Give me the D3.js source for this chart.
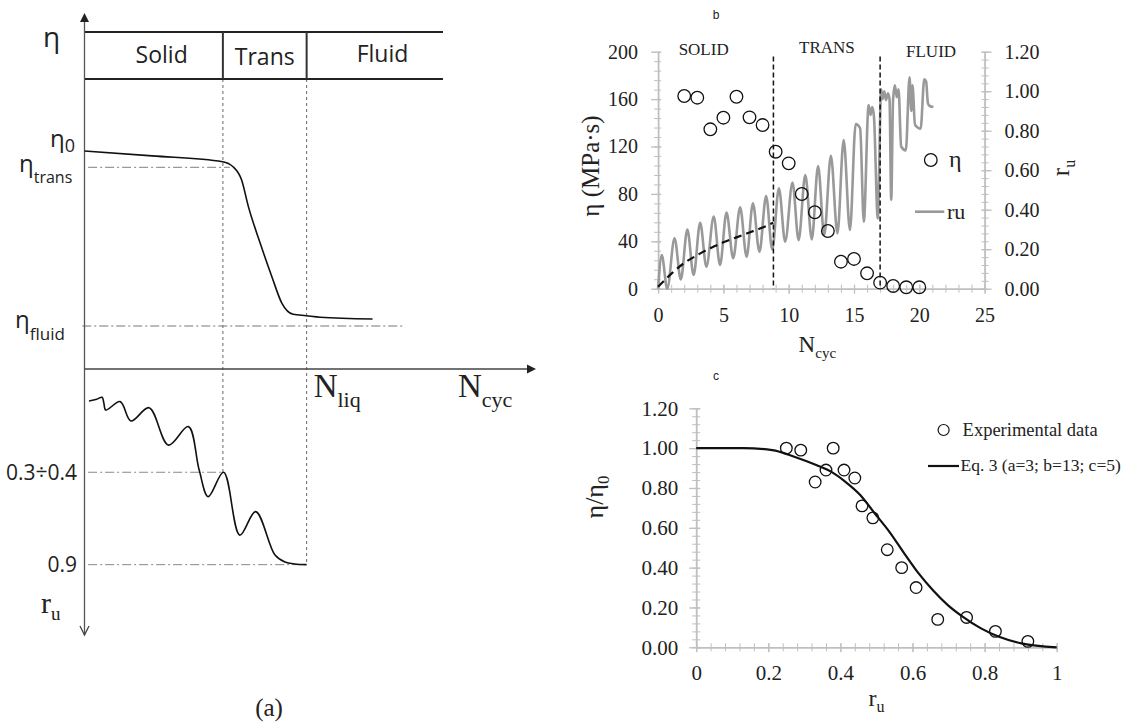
<!DOCTYPE html>
<html>
<head>
<meta charset="utf-8">
<script src="https://cdn.jsdelivr.net/npm/d3@7"></script>
<style>
  body { margin: 0; background: #fff; }
  svg { display: block; }
</style>
</head>
<body>
<svg id="chart" width="1131" height="723"></svg>
<script>
// ---------- panel (a): schematic, notional units ----------
// N runs 0..100 along the axis, eta 0 (= eta_fluid) .. 1 (= eta0), ru 0 .. 1 downward
const phaseNames = ["Solid", "Trans", "Fluid"];
const phaseEdgesA = [0, 30.65, 49.2, 79.4];
const etaSchemN = [0, 15, 30.6, 32.9, 34.8, 36.3, 38.9, 41.5, 43.7, 46.2, 49.1, 52.2, 63.8];
const etaSchemV = [1.0, 0.972, 0.939, 0.91, 0.834, 0.682, 0.474, 0.282, 0.131, 0.067, 0.059, 0.05, 0.04];
const etaLevels = [1.0, 0.906, 0]; // eta0, eta_trans, eta_fluid
const ruSchemN = [1.0, 2.7, 3.9, 4.3, 4.7, 7.9, 10.3, 14.3, 18.6, 23.0, 25.4, 27.4, 30.8, 34.4, 37.9, 42.2, 44.4, 46.6, 49.2];
const ruSchemV = [0.147, 0.139, 0.130, 0.158, 0.189, 0.150, 0.239, 0.178, 0.350, 0.265, 0.465, 0.587, 0.475, 0.764, 0.656, 0.856, 0.888, 0.897, 0.9];
const ruLevels = [0.475, 0.9];
const ruLevelLabels = ["0.3÷0.4", "0.9"];

// ---------- panel b ----------
const cycN = [2, 3, 4, 5, 6, 7, 8, 9, 10, 11, 12, 13, 14, 15, 16, 17, 18, 19, 20];
const etaMPa = [162.6, 161.2, 134.5, 144.3, 162, 144.6, 138.1, 115.6, 105.8, 79.9, 64.5, 48.7, 22.8, 25.1, 13.0, 5.1, 2.3, 1.2, 1.2];
const ruN = [0, 0.28, 0.70, 1.26, 1.74, 2.24, 2.72, 3.22, 3.70, 4.26, 4.74, 5.24, 5.75, 6.28, 6.78, 7.26, 7.76, 8.27, 8.74,
  9.25, 9.73, 10.29, 10.76, 11.27, 11.77, 12.25, 12.72, 13.23, 13.73, 14.21, 14.69, 15.13, 15.47, 15.75, 16.12, 16.26,
  16.40, 16.53, 16.82, 17.08, 17.2, 17.32, 17.45, 17.6, 17.72, 17.85, 17.99, 18.13, 18.27, 18.41, 18.61, 18.97, 19.25,
  19.39, 19.48, 19.67, 20.10, 20.38, 20.52, 20.66, 20.80, 21.08];
const ruVal = [0, 0.17, 0.0, 0.255, 0.047, 0.30, 0.069, 0.334, 0.111, 0.365, 0.12, 0.385, 0.154, 0.412, 0.162, 0.432, 0.187, 0.469, 0.199,
  0.508, 0.238, 0.537, 0.246, 0.576, 0.25, 0.621, 0.272, 0.673, 0.28, 0.753, 0.297, 0.834, 0.812, 0.339, 0.93, 0.88,
  0.92, 0.87, 0.356, 1.01, 0.96, 1.0, 0.955, 0.99, 0.96, 0.45, 0.955, 1.03, 0.97, 1.01, 0.72, 0.70, 1.07,
  0.90, 1.03, 0.83, 0.81, 1.06, 1.05, 0.94, 0.925, 0.92];
const trendN = [0, 1, 2, 3, 4, 5, 6, 7, 8, 8.82];
const trendRu = [0.01, 0.075, 0.13, 0.17, 0.205, 0.235, 0.26, 0.285, 0.31, 0.334];
const phaseBoundsB = [8.83, 17.0];
const phaseLabelsB = ["SOLID", "TRANS", "FLUID"];
const phaseLabelN = [3.49, 12.93, 20.9];
const etaTicks = [0, 40, 80, 120, 160, 200];
const ruTicksB = [0, 0.2, 0.4, 0.6, 0.8, 1.0, 1.2];
const cycTicks = [0, 5, 10, 15, 20, 25];

// ---------- panel c ----------
const expRu = [0.25, 0.29, 0.33, 0.36, 0.38, 0.41, 0.44, 0.46, 0.49, 0.53, 0.57, 0.61, 0.67, 0.75, 0.83, 0.92];
const expEta = [1.00, 0.99, 0.83, 0.89, 1.00, 0.89, 0.85, 0.71, 0.65, 0.49, 0.40, 0.30, 0.14, 0.15, 0.08, 0.03];
const fitRu = [0, 0.13, 0.211, 0.272, 0.333, 0.374, 0.414, 0.455, 0.495, 0.536, 0.577, 0.617, 0.658, 0.698, 0.739, 0.79, 0.84, 0.902, 1.0];
const fitEta = [1.0, 1.0, 0.99, 0.957, 0.915, 0.882, 0.831, 0.765, 0.673, 0.58, 0.472, 0.371, 0.284, 0.212, 0.154, 0.095, 0.053, 0.02, 0.0];
const cTicksX = [0, 0.2, 0.4, 0.6, 0.8, 1];
const cTicksY = [0, 0.2, 0.4, 0.6, 0.8, 1.0, 1.2];

const svg = d3.select("#chart");
const serif = "'Liberation Serif', 'Times New Roman', serif";
const sans = "'Open Sans', 'DejaVu Sans', sans-serif";
const axisGrey = "#bfbfbf";
const ink = "#222";

// ================= (a) =================
const xA = d3.scaleLinear().domain([0, 100]).range([84.5, 536]);
const etaA = d3.scaleLinear().domain([0, 1]).range([326, 151]);
const ruA = d3.scaleLinear().domain([0, 1]).range([369, 586.4]);
const gA = svg.append("g");

// phase boundaries
[phaseEdgesA[1], phaseEdgesA[2]].forEach((n, i) => {
  gA.append("line")
    .attr("x1", xA(n)).attr("x2", xA(n))
    .attr("y1", 79).attr("y2", ruA(ruLevels[i]))
    .attr("stroke", "#666").attr("stroke-width", 1).attr("stroke-dasharray", "3,3");
});

// dash-dot reference levels
const dashDot = "9,3,2,3";
gA.append("line").attr("x1", xA(0.8)).attr("x2", xA(32.2))
  .attr("y1", etaA(etaLevels[1])).attr("y2", etaA(etaLevels[1]))
  .attr("stroke", "#999").attr("stroke-width", 1.2).attr("stroke-dasharray", dashDot);
gA.append("line").attr("x1", xA(-0.5)).attr("x2", xA(70.8))
  .attr("y1", etaA(etaLevels[2])).attr("y2", etaA(etaLevels[2]))
  .attr("stroke", "#777").attr("stroke-width", 1).attr("stroke-dasharray", dashDot);
ruLevels.forEach((r, i) => {
  gA.append("line").attr("x1", xA(0.8)).attr("x2", xA(phaseEdgesA[i + 1]))
    .attr("y1", ruA(r)).attr("y2", ruA(r))
    .attr("stroke", "#888").attr("stroke-width", 1).attr("stroke-dasharray", dashDot);
});

// phase box
gA.selectAll("line.box")
  .data([32, 79])
  .join("line")
  .attr("x1", xA(0)).attr("x2", xA(phaseEdgesA[3]))
  .attr("y1", d => d).attr("y2", d => d)
  .attr("stroke", ink).attr("stroke-width", 2.2);
[phaseEdgesA[1], phaseEdgesA[2]].forEach(n => {
  gA.append("line").attr("x1", xA(n)).attr("x2", xA(n)).attr("y1", 32).attr("y2", 79)
    .attr("stroke", "#333").attr("stroke-width", 2);
});
gA.selectAll("text.phase")
  .data(phaseNames)
  .join("text")
  .attr("x", (d, i) => i === 2 ? xA(66) : xA((phaseEdgesA[i] + phaseEdgesA[i + 1]) / 2) + (i === 0 ? 8 : 0))
  .attr("y", (d, i) => [63, 65, 62][i])
  .attr("text-anchor", "middle")
  .attr("font-family", sans).attr("font-size", 23).attr("fill", ink)
  .text(d => d);

// axes with arrows
gA.append("line").attr("x1", xA(0)).attr("x2", xA(0)).attr("y1", 20).attr("y2", 635)
  .attr("stroke", "#555").attr("stroke-width", 1.3);
gA.append("path").attr("d", `M${xA(0)},13 L${xA(0) - 4.5},22 L${xA(0) + 4.5},22 Z`).attr("fill", ink);
gA.append("path").attr("d", `M${xA(0) - 4.5},626 L${xA(0)},635 L${xA(0) + 4.5},626`)
  .attr("fill", "none").attr("stroke", "#444").attr("stroke-width", 1.3);
gA.append("line").attr("x1", xA(0)).attr("x2", 528).attr("y1", ruA(0)).attr("y2", ruA(0))
  .attr("stroke", "#444").attr("stroke-width", 1.3);
gA.append("path").attr("d", `M527,${ruA(0) - 4.5} L536,${ruA(0)} L527,${ruA(0) + 4.5} Z`).attr("fill", ink);

// curves
gA.append("path")
  .datum(etaSchemN.map((n, i) => [n, etaSchemV[i]]))
  .attr("d", d3.line().x(d => xA(d[0])).y(d => etaA(d[1])).curve(d3.curveMonotoneX))
  .attr("fill", "none").attr("stroke", "#111").attr("stroke-width", 1.6);
gA.append("path")
  .datum(ruSchemN.map((n, i) => [n, ruSchemV[i]]))
  .attr("d", d3.line().x(d => xA(d[0])).y(d => ruA(d[1])).curve(d3.curveCatmullRom.alpha(0.5)))
  .attr("fill", "none").attr("stroke", "#111").attr("stroke-width", 1.6);

// labels
function subLabel(g, x, y, main, sub, opts) {
  const t = g.append("text").attr("x", x).attr("y", y)
    .attr("font-family", opts.family).attr("font-size", opts.size).attr("fill", ink);
  t.append("tspan").text(main);
  if (sub) t.append("tspan").attr("font-size", opts.subSize).attr("dy", opts.dy).text(sub);
  if (opts.anchor) t.attr("text-anchor", opts.anchor);
  return t;
}
subLabel(gA, 43, 47, "η", null, { family: sans, size: 28 });
subLabel(gA, 50, etaA(etaLevels[0]) - 4, "η", "0", { family: sans, size: 24, subSize: 18, dy: 5 });
subLabel(gA, 19, etaA(etaLevels[1]) + 4.5, "η", "trans", { family: sans, size: 24, subSize: 16, dy: 11 });
subLabel(gA, 15, etaA(etaLevels[2]) + 2, "η", "fluid", { family: sans, size: 24, subSize: 17, dy: 12 });
ruLevels.forEach((r, i) => {
  gA.append("text").attr("x", 77).attr("y", ruA(r) + 7.5)
    .attr("text-anchor", "end").attr("font-family", sans).attr("font-size", 21).attr("fill", ink)
    .text(ruLevelLabels[i]);
});
subLabel(gA, xA(phaseEdgesA[2]) + 7, 397, "N", "liq", { family: serif, size: 33, subSize: 22, dy: 10 });
subLabel(gA, 458, 397, "N", "cyc", { family: serif, size: 33, subSize: 22, dy: 10 });
subLabel(gA, 41, 613, "r", "u", { family: serif, size: 30, subSize: 19, dy: 7 });
gA.append("text").attr("x", 269).attr("y", 716).attr("text-anchor", "middle")
  .attr("font-family", serif).attr("font-size", 25).attr("fill", ink).text("(a)");

// ================= b =================
const xB = d3.scaleLinear().domain([0, 25]).range([658.1, 984.6]);
const yB = d3.scaleLinear().domain([0, 200]).range([288.7, 51.7]);
const yBr = d3.scaleLinear().domain([0, 1.2]).range([288.7, 51.7]);
const gB = svg.append("g");

function styleAxis(g, fontSize) {
  g.select(".domain").attr("stroke", axisGrey).attr("stroke-width", 1.8);
  g.selectAll(".tick line").attr("stroke", axisGrey).attr("stroke-width", 1.3);
  g.selectAll(".tick text").attr("fill", ink).attr("font-family", serif).attr("font-size", fontSize);
}
function minorAxis(g, axis, values, size) {
  const m = g.append("g").call(axis.tickValues(values).tickSize(size).tickFormat(""));
  m.select(".domain").remove();
  m.selectAll(".tick line").attr("stroke", axisGrey).attr("stroke-width", 1);
  return m;
}

// minor ticks
minorAxis(gB.append("g").attr("transform", `translate(${xB(0)},0)`), d3.axisLeft(yB), d3.range(0, 201, 8), 4)
  .selectAll(".tick line").attr("x1", 3);
minorAxis(gB.append("g").attr("transform", `translate(${xB(25)},0)`), d3.axisRight(yBr), d3.range(0, 1.2001, 0.04), 4)
  .selectAll(".tick line").attr("x1", -3);
minorAxis(gB.append("g").attr("transform", `translate(0,${yB(0)})`), d3.axisBottom(xB), d3.range(0, 26, 1), 4)
  .selectAll(".tick line").attr("y1", -4);

const axBL = gB.append("g").attr("transform", `translate(${xB(0)},0)`)
  .call(d3.axisLeft(yB).tickValues(etaTicks).tickSize(7).tickPadding(13).tickSizeOuter(0));
styleAxis(axBL, 20);
axBL.selectAll(".tick line").attr("x1", 3);
const axBR = gB.append("g").attr("transform", `translate(${xB(25)},0)`)
  .call(d3.axisRight(yBr).tickValues(ruTicksB).tickSize(7).tickPadding(13).tickSizeOuter(0).tickFormat(d3.format(".2f")));
styleAxis(axBR, 20);
axBR.selectAll(".tick line").attr("x1", -3);
const axBB = gB.append("g").attr("transform", `translate(0,${yB(0)})`)
  .call(d3.axisBottom(xB).tickValues(cycTicks).tickSize(5).tickPadding(14).tickSizeOuter(0));
styleAxis(axBB, 20);
axBB.selectAll(".tick line").attr("y1", -4);

// ru record
gB.append("path")
  .datum(ruN.map((n, i) => [n, ruVal[i]]))
  .attr("d", d3.line().x(d => xB(d[0])).y(d => yBr(d[1])).curve(d3.curveMonotoneX))
  .attr("fill", "none").attr("stroke", "#999").attr("stroke-width", 2.6).attr("stroke-linejoin", "round");

// trend in solid phase
gB.append("path")
  .datum(trendN.map((n, i) => [n, trendRu[i]]))
  .attr("d", d3.line().x(d => xB(d[0])).y(d => yBr(d[1])).curve(d3.curveMonotoneX))
  .attr("fill", "none").attr("stroke", "#111").attr("stroke-width", 2.2).attr("stroke-dasharray", "8,5");

// phase limits
gB.selectAll("line.phase")
  .data(phaseBoundsB)
  .join("line")
  .attr("x1", d => xB(d)).attr("x2", d => xB(d))
  .attr("y1", yB(196)).attr("y2", yB(0))
  .attr("stroke", "#111").attr("stroke-width", 1.5).attr("stroke-dasharray", "5,3");
gB.selectAll("text.phase")
  .data(phaseLabelsB)
  .join("text")
  .attr("x", (d, i) => xB(phaseLabelN[i]))
  .attr("y", (d, i) => [55, 53.3, 56.7][i])
  .attr("text-anchor", "middle")
  .attr("font-family", serif).attr("font-size", 17).attr("fill", ink)
  .text(d => d);

// viscosity points
gB.selectAll("circle.eta")
  .data(cycN.map((n, i) => [n, etaMPa[i]]))
  .join("circle")
  .attr("cx", d => xB(d[0])).attr("cy", d => yB(d[1])).attr("r", 6.3)
  .attr("fill", "none").attr("stroke", "#111").attr("stroke-width", 1.3);

// legend
gB.append("circle").attr("cx", 930.8).attr("cy", 160).attr("r", 6.3)
  .attr("fill", "none").attr("stroke", "#111").attr("stroke-width", 1.3);
gB.append("text").attr("x", 949).attr("y", 167).attr("font-family", serif).attr("font-size", 24).attr("fill", ink).text("η");
gB.append("line").attr("x1", 915).attr("x2", 944.3).attr("y1", 211.7).attr("y2", 211.7)
  .attr("stroke", "#999").attr("stroke-width", 2.6);
gB.append("text").attr("x", 947).attr("y", 219).attr("font-family", serif).attr("font-size", 22).attr("fill", ink).text("ru");

// titles
gB.append("text").attr("transform", "translate(599,166) rotate(-90)").attr("text-anchor", "middle")
  .attr("font-family", serif).attr("font-size", 25).attr("fill", ink).text("η (MPa·s)");
subLabel(gB, 0, 0, "r", "u", { family: serif, size: 25, subSize: 16, dy: 6, anchor: "middle" })
  .attr("transform", "translate(1069,168) rotate(-90)");
subLabel(gB, (xB(0) + xB(25)) / 2 - 4, 352, "N", "cyc", { family: serif, size: 23, subSize: 15, dy: 6, anchor: "middle" });
gB.append("text").attr("x", 716).attr("y", 19).attr("text-anchor", "middle")
  .attr("font-family", "'Liberation Sans', Arial, sans-serif").attr("font-size", 12).attr("fill", ink).text("b");

// ================= c =================
const xC = d3.scaleLinear().domain([0, 1]).range([696.2, 1056.7]);
const yC = d3.scaleLinear().domain([0, 1.2]).range([647.3, 408.3]);
const gC = svg.append("g");

minorAxis(gC.append("g").attr("transform", `translate(${xC(0)},0)`), d3.axisLeft(yC), d3.range(0, 1.2001, 0.04), 4)
  .selectAll(".tick line").attr("x1", 4);
minorAxis(gC.append("g").attr("transform", `translate(0,${yC(0)})`), d3.axisBottom(xC), d3.range(0, 1.0001, 0.04), 4)
  .selectAll(".tick line").attr("y1", -4);
const axCL = gC.append("g").attr("transform", `translate(${xC(0)},0)`)
  .call(d3.axisLeft(yC).tickValues(cTicksY).tickSize(7).tickPadding(11).tickSizeOuter(0).tickFormat(d3.format(".2f")));
styleAxis(axCL, 21);
axCL.selectAll(".tick line").attr("x1", 4);
const axCB = gC.append("g").attr("transform", `translate(0,${yC(0)})`)
  .call(d3.axisBottom(xC).tickValues(cTicksX).tickSize(5).tickPadding(13).tickSizeOuter(0).tickFormat(d3.format("")));
styleAxis(axCB, 21);
axCB.selectAll(".tick line").attr("y1", -4);

gC.append("path")
  .datum(fitRu.map((r, i) => [r, fitEta[i]]))
  .attr("d", d3.line().x(d => xC(d[0])).y(d => yC(d[1])).curve(d3.curveMonotoneX))
  .attr("fill", "none").attr("stroke", "#111").attr("stroke-width", 2.2);
gC.selectAll("circle.exp")
  .data(expRu.map((r, i) => [r, expEta[i]]))
  .join("circle")
  .attr("cx", d => xC(d[0])).attr("cy", d => yC(d[1])).attr("r", 5.8)
  .attr("fill", "none").attr("stroke", "#111").attr("stroke-width", 1.3);

// legend
gC.append("circle").attr("cx", 943.6).attr("cy", 430).attr("r", 5.5)
  .attr("fill", "none").attr("stroke", "#111").attr("stroke-width", 1.2);
gC.append("text").attr("x", 962.6).attr("y", 435.5).attr("font-family", serif).attr("font-size", 18.5).attr("fill", ink)
  .text("Experimental data");
gC.append("line").attr("x1", 928).attr("x2", 959).attr("y1", 466).attr("y2", 466)
  .attr("stroke", "#111").attr("stroke-width", 2.2);
gC.append("text").attr("x", 960.5).attr("y", 471).attr("font-family", serif).attr("font-size", 17.5).attr("fill", ink)
  .text("Eq. 3 (a=3; b=13; c=5)");

// titles
subLabel(gC, 0, 0, "η/η", "0", { family: serif, size: 26, subSize: 17, dy: 6, anchor: "middle" })
  .attr("transform", "translate(603,497) rotate(-90)");
subLabel(gC, (xC(0) + xC(1)) / 2, 706, "r", "u", { family: serif, size: 24, subSize: 16, dy: 6, anchor: "middle" });
gC.append("text").attr("x", 716).attr("y", 380).attr("text-anchor", "middle")
  .attr("font-family", "'Liberation Sans', Arial, sans-serif").attr("font-size", 12).attr("fill", ink).text("c");
</script>
</body>
</html>
